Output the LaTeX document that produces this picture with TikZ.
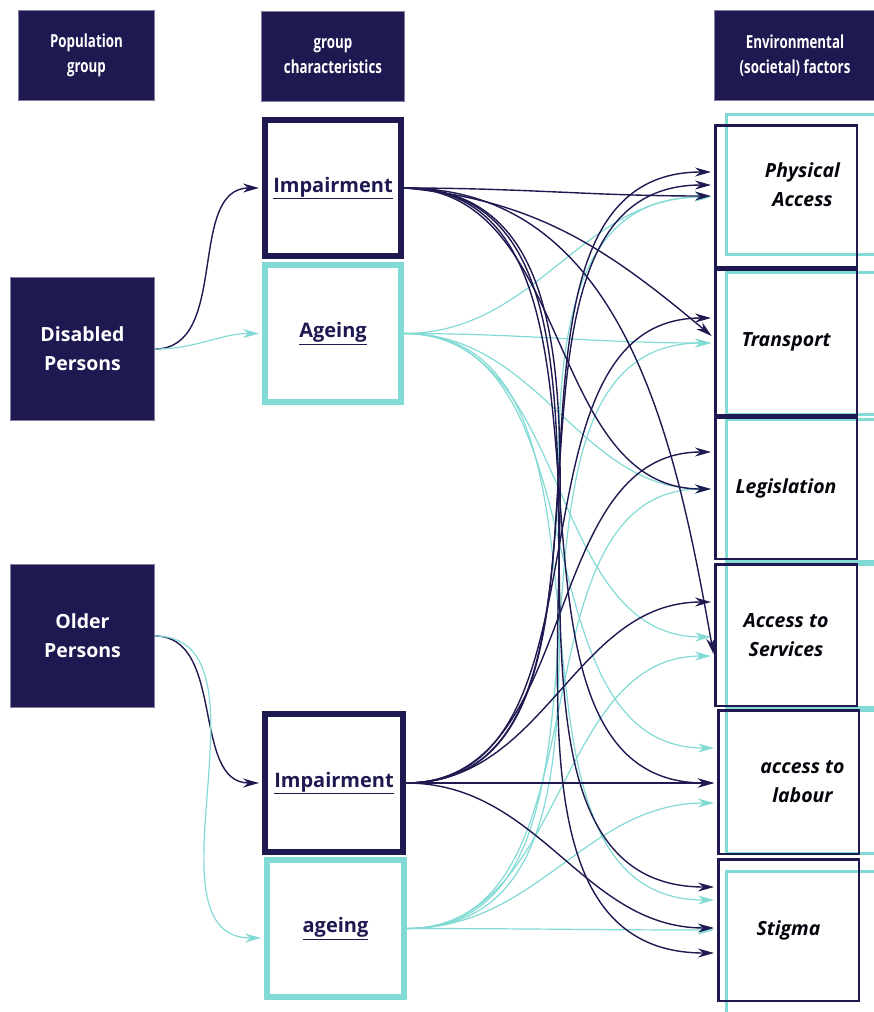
\documentclass[tikz,border=0pt]{standalone}
\usepackage{fontspec}
\setmainfont{Open Sans}
\newcommand{\headfont}{\bfseries\addfontfeatures{FakeStretch=0.74}}
\usepackage{xcolor}
\usepackage{tikz}
\usetikzlibrary{arrows.meta}
\usetikzlibrary{positioning}
\definecolor{navy}{RGB}{30,25,80}
\definecolor{aqua}{RGB}{130,218,213}
\tikzset{
    headbox/.style = {rectangle, fill=navy, draw=navy!55!white, line width=0.6pt, text=white, align=center, font=\headfont\fontsize{18}{25}\selectfont, minimum height=90pt, inner sep=0pt},
    groupbox/.style = {rectangle, fill=navy, draw=navy!55!white, line width=0.6pt, text=white, align=center, font=\bfseries\fontsize{19.5}{29}\selectfont, minimum width=144pt, minimum height=143pt, inner sep=0pt},
    impbox/.style = {rectangle, draw=navy, line width=6pt, fill=white, text=navy, font=\bfseries\fontsize{20}{24}\selectfont, inner sep=0pt},
    agebox/.style = {impbox, draw=aqua},
    factbox/.style = {rectangle, draw=navy, line width=2.5pt, text=black!85!navy, align=center, font=\bfseries\itshape\fontsize{19.5}{29}\selectfont, inner sep=0pt},
    factframe/.style = {factbox, draw=aqua, line width=3pt, minimum width=152pt},
    darkarr/.style = {-{Stealth[length=16pt,width=9pt]}, navy, line width=1.4pt, shorten >=3pt},
    aquaarr/.style = {darkarr, aqua, line width=1.2pt}
}
\begin{document}
\begin{tikzpicture}[x=1pt,y=1pt]
\useasboundingbox (0,0) rectangle (873,-1012);
% headers
\node[headbox, minimum width=136pt] at (86.5,-55.5) (pop) {Population\\group};
\node[headbox, minimum width=143pt] at (333,-56) (chr) {group\\characteristics};
\node[headbox, minimum width=162pt] at (795,-55.5) (env) {Environmental\\(societal) factors};
% population groups
\node[groupbox] at (82.5,-349) (dis) {Disabled\\Persons};
\node[groupbox] at (82.5,-636) (old) {Older\\Persons};
% characteristics
\node[impbox, minimum width=136pt, minimum height=136pt] at (333,-188) (ti) {\underline{Impairment}};
\node[agebox, minimum width=136pt, minimum height=137pt] at (333,-333.5) (ta) {\underline{Ageing}};
\node[impbox, minimum width=138pt, minimum height=138pt] at (334,-783) (bi) {\underline{Impairment}};
\node[agebox, minimum width=137pt, minimum height=137pt] at (335.5,-928.5) (ba) {\underline{ageing}};
% factors
\node[factframe, minimum height=140pt] at (802.5,-184.5) (paf) {Physical\\Access};
\node[factframe, minimum height=142pt] at (802.5,-343.5) (trf) {};
\node[factframe, minimum height=142pt] at (802.5,-490.5) (lgf) {};
\node[factframe, minimum height=143pt] at (802.5,-636) (asf) {};
\node[factframe, minimum height=143pt] at (802.5,-782) (alf) {access to\\labour};
\node[factframe, minimum height=147pt] at (802.5,-945) (stf) {};
\node[factbox, minimum width=141.5pt, minimum height=141.5pt] at (786,-196) (pa) {};
\node[factbox, minimum width=141.5pt, minimum height=145.5pt] at (786,-342) (tr) {Transport};
\node[factbox, minimum width=141.5pt, minimum height=141.5pt] at (786,-488) (lg) {Legislation};
\node[factbox, minimum width=141.5pt, minimum height=141.5pt] at (786,-635) (as) {Access to\\Services};
\node[factbox, minimum width=140.5pt, minimum height=143.5pt] at (788.5,-782) (al) {};
\node[factbox, minimum width=140.5pt, minimum height=141.5pt] at (788.5,-930) (st) {Stigma};
%
\draw[darkarr] (dis.east) to[out=0,in=180] (ti.west);
\draw[aquaarr] (dis.east) to[out=0,in=180] (ta.west);
\draw[darkarr] (old.east) to[out=0,in=180] (bi.west);
\draw[aquaarr] (old.east) to[out=0,in=180] (ba.west |- 0,-938);
%
\draw[aquaarr] (ta.east) to[out=0,in=180] (pa.west |- 0,-197);
\draw[aquaarr] (ta.east) to[out=0,in=180] (tr.west |- 0,-343);
\draw[aquaarr] (ta.east) to[out=0,in=180] (lg.west |- 0,-489);
\draw[aquaarr] (ta.east) to[out=0,in=180] (as.west |- 0,-637);
\draw[aquaarr] (ta.east) to[out=0,in=180] (al.west |- 0,-748);
\draw[aquaarr] (ta.east) to[out=0,in=180] (st.west |- 0,-900);
%
\draw[aquaarr] (ba.east) to[out=0,in=180] (pa.west |- 0,-197);
\draw[aquaarr] (ba.east) to[out=0,in=180] (tr.west |- 0,-343);
\draw[aquaarr] (ba.east) to[out=0,in=180] (lg.west |- 0,-489);
\draw[aquaarr] (ba.east) to[out=0,in=180] (as.west |- 0,-656);
\draw[aquaarr] (ba.east) to[out=0,in=180] (al.west |- 0,-803);
\draw[aquaarr] (ba.east) to[out=0,in=180] (st.west |- 0,-930);
%
\draw[darkarr] (ti.east) to[out=0,in=180] (pa.west |- 0,-196);
\draw[darkarr] (ti.east) to[out=-5,in=140] (tr.west |- 0,-338);
\draw[darkarr] (ti.east) to[out=0,in=180] (lg.west |- 0,-489);
\draw[darkarr] (ti.east) to[out=0,in=100] (as.west |- 0,-657);
\draw[darkarr] (ti.east) to[out=0,in=180] (al.west |- 0,-783);
\draw[darkarr] (ti.east) to[out=0,in=180] (st.west |- 0,-887);
\draw[darkarr] (ti.east) to[out=0,in=180] (st.west |- 0,-953);
%
\draw[darkarr] (bi.east) to[out=0,in=180] (pa.west |- 0,-172);
\draw[darkarr] (bi.east) to[out=0,in=180] (pa.west |- 0,-185);
\draw[darkarr] (bi.east) to[out=0,in=180] (tr.west |- 0,-318);
\draw[darkarr] (bi.east) to[out=0,in=180] (lg.west |- 0,-452);
\draw[darkarr] (bi.east) to[out=0,in=180] (as.west |- 0,-602);
\draw[darkarr] (bi.east) to[out=0,in=180] (al.west |- 0,-783);
\draw[darkarr] (bi.east) to[out=0,in=180] (st.west |- 0,-928);
\end{tikzpicture}
\end{document}
